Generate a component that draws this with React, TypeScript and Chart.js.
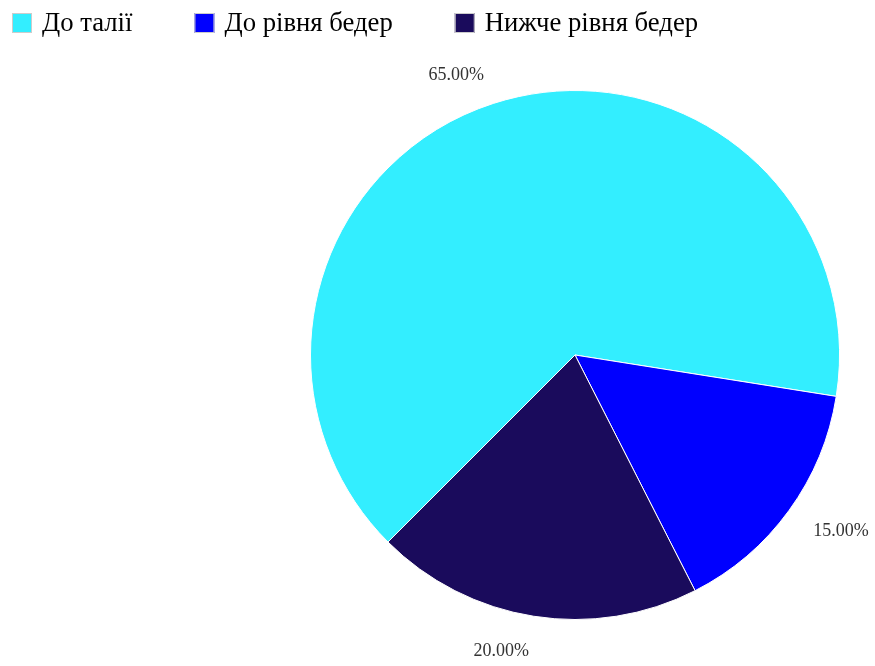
import React, { useEffect, useRef } from "react";
import { Chart, registerables } from "chart.js";

Chart.register(...registerables);

const categories = ["До талії", "До рівня бедер", "Нижче рівня бедер"];
const shares = [65, 15, 20];
const sliceColors = ["#33eeff", "#0000ff", "#1a0b5c"];

const legendPlugin = {
  id: "topLegend",
  afterDraw(chart: any) {
    const ctx = chart.ctx;
    const labels: string[] = chart.data.labels;
    const colors: string[] = chart.data.datasets[0].backgroundColor;
    ctx.save();
    ctx.font = '26.7px "Liberation Serif", "Times New Roman", serif';
    ctx.textBaseline = "middle";
    ctx.textAlign = "left";
    let x = 12;
    const y = 13;
    const box = 20;
    labels.forEach((label, i) => {
      ctx.fillStyle = colors[i];
      ctx.fillRect(x, y, box, box);
      ctx.strokeStyle = "#cccccc";
      ctx.lineWidth = 1;
      ctx.strokeRect(x + 0.5, y + 0.5, box - 1, box - 1);
      ctx.fillStyle = "#000000";
      const tx = x + box + 10;
      ctx.fillText(label, tx, y + box / 2 + 1);
      x = tx + ctx.measureText(label).width + 62;
    });
    ctx.restore();
  },
};

const percentLabelPlugin = {
  id: "percentLabels",
  afterDatasetsDraw(chart: any) {
    const ctx = chart.ctx;
    const meta = chart.getDatasetMeta(0);
    const data: number[] = chart.data.datasets[0].data;
    const total = data.reduce((a, b) => a + b, 0);
    ctx.save();
    ctx.font = '18px "Liberation Serif", "Times New Roman", serif';
    ctx.fillStyle = "#333333";
    ctx.textBaseline = "middle";
    meta.data.forEach((arc: any, i: number) => {
      const { x, y, startAngle, endAngle, outerRadius } = arc.getProps(
        ["x", "y", "startAngle", "endAngle", "outerRadius"],
        true
      );
      const mid = (startAngle + endAngle) / 2;
      const R = outerRadius + 30;
      const px = x + Math.cos(mid) * R;
      const py = y + Math.sin(mid) * R + Math.max(0, Math.sin(mid)) * 5;
      ctx.textAlign = Math.cos(mid) >= 0 ? "left" : "right";
      const txt = ((data[i] / total) * 100).toFixed(2) + "%";
      ctx.fillText(txt, px, py);
    });
    ctx.restore();
  },
};

export default function App() {
  const canvasRef = useRef<HTMLCanvasElement | null>(null);

  useEffect(() => {
    if (!canvasRef.current) return;
    const chart = new Chart(canvasRef.current, {
      type: "pie",
      data: {
        labels: categories,
        datasets: [
          {
            data: shares,
            backgroundColor: sliceColors,
            borderColor: "#ffffff",
            borderWidth: 1,
            hoverOffset: 0,
          },
        ],
      },
      options: {
        responsive: false,
        animation: false,
        rotation: 225,
        layout: { padding: { left: 310, right: 35, top: 90, bottom: 46 } },
        plugins: {
          legend: { display: false },
          tooltip: { enabled: false },
        },
      },
      plugins: [legendPlugin, percentLabelPlugin],
    });
    return () => chart.destroy();
  }, []);

  return (
    <div style={{ position: "fixed", left: 0, top: 0, width: 875, height: 666, background: "#ffffff" }}>
      <canvas ref={canvasRef} width={875} height={666} style={{ display: "block" }} />
    </div>
  );
}
